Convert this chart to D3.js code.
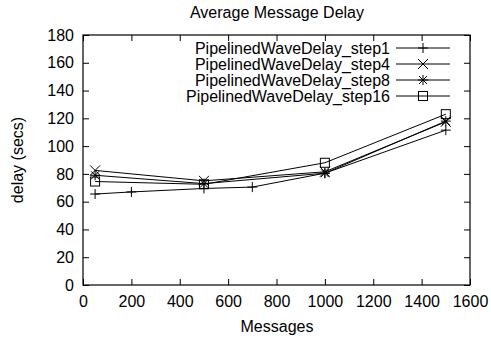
<!DOCTYPE html>
<html>
<head>
<meta charset="utf-8">
<script src="https://cdn.jsdelivr.net/npm/d3@7"></script>
<style>
  body { margin: 0; background: #fff; }
  text { font-family: "Liberation Sans", Arial, sans-serif; fill: #000; }
</style>
</head>
<body>
<svg width="491" height="339"></svg>
<script>
var seriesNames = ["PipelinedWaveDelay_step1", "PipelinedWaveDelay_step4",
                   "PipelinedWaveDelay_step8", "PipelinedWaveDelay_step16"];
var markers = ["plus", "cross", "star", "square"];

var step1X = [50, 200, 500, 700, 1000, 1500];
var step1Y = [65.5, 67, 69.5, 70.5, 80.5, 111.5];
var step4X = [50, 500, 1000, 1500];
var step4Y = [82.5, 75, 81.5, 117.5];
var step8X = [50, 500, 1000, 1500];
var step8Y = [79, 73, 80.5, 118];
var step16X = [50, 500, 1000, 1500];
var step16Y = [74.5, 72.5, 88, 123];

var xTicks = [0, 200, 400, 600, 800, 1000, 1200, 1400, 1600];
var yTicks = [0, 20, 40, 60, 80, 100, 120, 140, 160, 180];

var seriesX = [step1X, step4X, step8X, step16X];
var seriesY = [step1Y, step4Y, step8Y, step16Y];

var plotL = 83, plotR = 470, plotT = 35, plotB = 285;
var fs = 16;
var svg = d3.select("svg");

var x = d3.scaleLinear().domain([0, 1600]).range([plotL, plotR]);
var y = d3.scaleLinear().domain([0, 180]).range([plotB, plotT]);

// ticks, gnuplot style: inside and mirrored
var tickLen = 6;
var fmt = d3.format("d");
function noDomain(g) { g.select(".domain").remove(); }

svg.append("g")
    .attr("transform", "translate(0," + plotB + ")")
    .call(d3.axisBottom(x).tickValues(xTicks).tickSizeInner(-tickLen).tickSizeOuter(0).tickPadding(11).tickFormat(fmt))
    .call(noDomain)
    .selectAll("text").attr("font-size", fs).attr("font-family", "Liberation Sans, Arial, sans-serif");
svg.append("g")
    .attr("transform", "translate(0," + plotT + ")")
    .call(d3.axisTop(x).tickValues(xTicks).tickSizeInner(-tickLen).tickSizeOuter(0).tickFormat(""))
    .call(noDomain);
svg.append("g")
    .attr("transform", "translate(" + plotL + ",0)")
    .call(d3.axisLeft(y).tickValues(yTicks).tickSizeInner(-tickLen).tickSizeOuter(0).tickPadding(9).tickFormat(fmt))
    .call(noDomain)
    .selectAll("text").attr("font-size", fs).attr("font-family", "Liberation Sans, Arial, sans-serif");
svg.append("g")
    .attr("transform", "translate(" + plotR + ",0)")
    .call(d3.axisRight(y).tickValues(yTicks).tickSizeInner(-tickLen).tickSizeOuter(0).tickFormat(""))
    .call(noDomain);

svg.append("rect")
    .attr("x", plotL).attr("y", plotT)
    .attr("width", plotR - plotL).attr("height", plotB - plotT)
    .attr("fill", "none").attr("stroke", "#000").attr("stroke-width", 1.2);

function drawMarker(g, type, cx, cy) {
    var s = 5;
    if (type == "plus") {
        g.append("path").attr("d", "M" + (cx - s) + "," + cy + "H" + (cx + s) + "M" + cx + "," + (cy - s) + "V" + (cy + s));
    } else if (type == "cross") {
        g.append("path").attr("d", "M" + (cx - s) + "," + (cy - s) + "L" + (cx + s) + "," + (cy + s) +
            "M" + (cx - s) + "," + (cy + s) + "L" + (cx + s) + "," + (cy - s));
    } else if (type == "star") {
        g.append("path").attr("d", "M" + (cx - s) + "," + cy + "H" + (cx + s) + "M" + cx + "," + (cy - s) + "V" + (cy + s) +
            "M" + (cx - 4) + "," + (cy - 4) + "L" + (cx + 4) + "," + (cy + 4) +
            "M" + (cx - 4) + "," + (cy + 4) + "L" + (cx + 4) + "," + (cy - 4));
    } else {
        g.append("rect").attr("x", cx - 4.5).attr("y", cy - 4.5).attr("width", 9).attr("height", 9).attr("fill", "none");
    }
}

var line = d3.line().x(function (d) { return x(d[0]); }).y(function (d) { return y(d[1]); });

seriesNames.forEach(function (name, i) {
    var pts = seriesX[i].map(function (v, j) { return [v, seriesY[i][j]]; });
    var g = svg.append("g").attr("stroke", "#000").attr("stroke-width", 1).attr("fill", "none");
    g.append("path").attr("d", line(pts));
    pts.forEach(function (p) { drawMarker(g, markers[i], x(p[0]), y(p[1])); });

    // legend
    var ly = 48 + i * 16;
    svg.append("text").attr("x", 390).attr("y", ly).attr("dy", "0.35em")
        .attr("text-anchor", "end").attr("font-size", fs).text(name);
    var lg = svg.append("g").attr("stroke", "#000").attr("stroke-width", 1).attr("fill", "none");
    lg.append("path").attr("d", "M396," + ly + "H450");
    drawMarker(lg, markers[i], 423, ly);
});

svg.append("text").attr("x", 277).attr("y", 18).attr("text-anchor", "middle")
    .attr("font-size", fs).text("Average Message Delay");
svg.append("text").attr("x", 277).attr("y", 332).attr("text-anchor", "middle")
    .attr("font-size", fs).text("Messages");
svg.append("text").attr("transform", "translate(23,160) rotate(-90)").attr("text-anchor", "middle")
    .attr("font-size", fs).text("delay (secs)");
</script>
</body>
</html>
